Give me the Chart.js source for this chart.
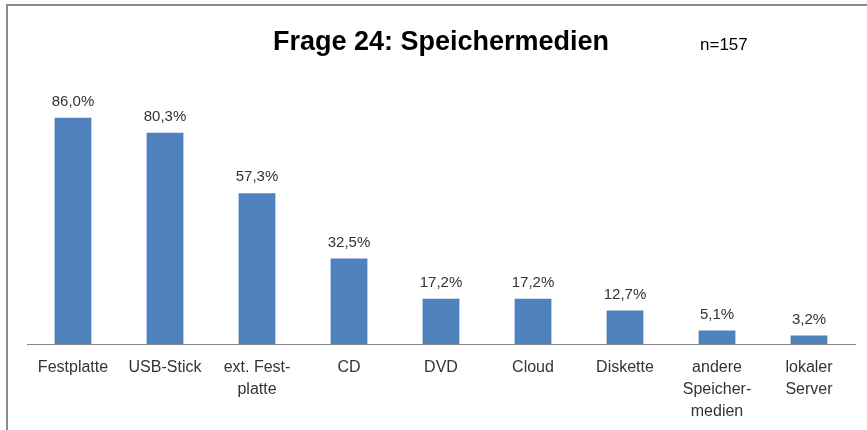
<!DOCTYPE html>
<html>
<head>
<meta charset="utf-8">
<script src="https://cdn.jsdelivr.net/npm/chart.js@4/dist/chart.umd.min.js"></script>
<style>
html,body{margin:0;padding:0;background:#fff;}
#wrap{width:867px;height:430px;position:relative;}
</style>
</head>
<body>
<div id="wrap"><canvas id="c" width="867" height="430"></canvas></div>
<script>
const categories = [
  "Festplatte",
  "USB-Stick",
  ["ext. Fest-", "platte"],
  "CD",
  "DVD",
  "Cloud",
  "Diskette",
  ["andere", "Speicher-", "medien"],
  ["lokaler", "Server"]
];
const values = [86.0, 80.3, 57.3, 32.5, 17.2, 17.2, 12.7, 5.1, 3.2];
const valueLabels = ["86,0%", "80,3%", "57,3%", "32,5%", "17,2%", "17,2%", "12,7%", "5,1%", "3,2%"];
const titleText = "Frage 24: Speichermedien";
const sampleText = "n=157";

const FONT = "'Liberation Sans', Arial, sans-serif";

const decor = {
  id: 'decor',
  beforeDraw(chart) {
    const ctx = chart.ctx;
    ctx.save();
    ctx.fillStyle = '#ffffff';
    ctx.fillRect(0, 0, chart.width, chart.height);
    ctx.strokeStyle = '#8a8a8a';
    ctx.lineWidth = 2;
    ctx.beginPath();
    ctx.moveTo(7, 430);
    ctx.lineTo(7, 5);
    ctx.lineTo(867, 5);
    ctx.stroke();
    // title
    ctx.fillStyle = '#000000';
    ctx.font = "bold 27px " + FONT;
    ctx.textAlign = 'center';
    ctx.textBaseline = 'alphabetic';
    ctx.fillText(titleText, 441, 50);
    ctx.font = "17px " + FONT;
    ctx.textAlign = 'left';
    ctx.fillText(sampleText, 700, 50);
    ctx.restore();
  },
  afterDatasetsDraw(chart) {
    const ctx = chart.ctx;
    const meta = chart.getDatasetMeta(0);
    ctx.save();
    ctx.fillStyle = '#333333';
    ctx.font = "15px " + FONT;
    ctx.textAlign = 'center';
    ctx.textBaseline = 'alphabetic';
    meta.data.forEach((bar, i) => {
      ctx.fillText(valueLabels[i], bar.x, bar.y - 12);
    });
    ctx.restore();
  }
};

new Chart(document.getElementById('c'), {
  type: 'bar',
  data: {
    labels: categories,
    datasets: [{
      data: values,
      backgroundColor: '#4F81BD',
      borderWidth: 0,
      barPercentage: 0.4,
      categoryPercentage: 1.0
    }]
  },
  options: {
    responsive: false,
    animation: false,
    devicePixelRatio: 1,
    layout: { padding: { left: 27, right: 12, top: 81, bottom: 0 } },
    plugins: {
      legend: { display: false },
      title: { display: false },
      tooltip: { enabled: false }
    },
    scales: {
      y: {
        display: false,
        min: 0,
        max: 100
      },
      x: {
        grid: { display: false, drawTicks: false },
        border: { display: true, color: '#868686', width: 1 },
        ticks: {
          color: '#333333',
          font: { family: FONT, size: 16, lineHeight: 1.36 },
          padding: 13,
          maxRotation: 0,
          autoSkip: false
        },
        afterFit(scale) { scale.height = 86; }
      }
    }
  },
  plugins: [decor]
});
</script>
</body>
</html>
